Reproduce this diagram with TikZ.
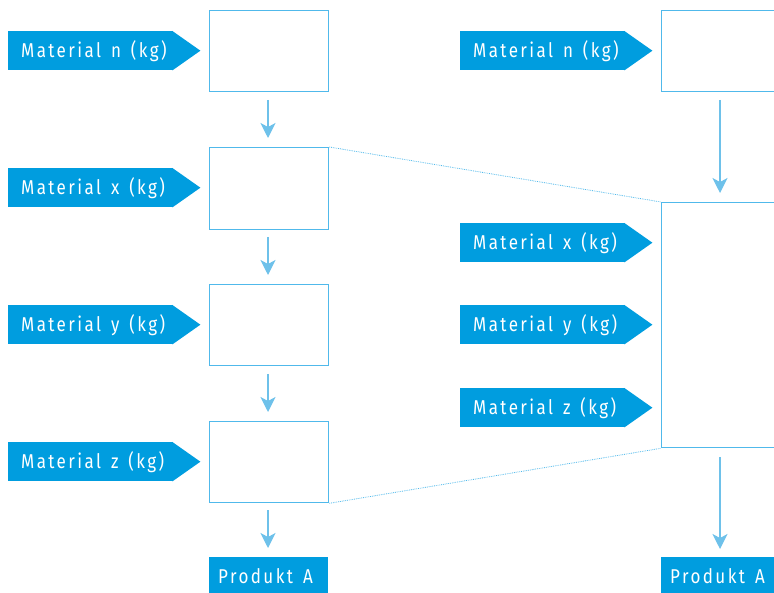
\documentclass[tikz,border=0pt]{standalone}
\usepackage{fontspec}
\setmainfont[LetterSpace=12,FakeStretch=0.85]{Fira Sans}
\usetikzlibrary{arrows.meta,calc}
\definecolor{fillblue}{RGB}{0,157,223}
\definecolor{boxblue}{RGB}{80,185,235}
\definecolor{arrblue}{RGB}{110,193,234}
\newcommand\mylabfont{\fontsize{20}{20}\selectfont}
\newcommand\wsp{\kern10pt\relax}
\tikzset{
  lab/.style={fill=fillblue, text=white, anchor=north west, minimum width=165pt, minimum height=39pt,
    inner xsep=13pt, inner ysep=0pt, text width=139pt, align=left, font=\mylabfont},
  box/.style={draw=boxblue, line width=1.3pt, anchor=north west, minimum width=119pt, inner sep=0pt},
  flow/.style={draw=arrblue, line width=1.3pt, -{Stealth[length=15pt,width=15pt,inset=4pt]}},
  prod/.style={fill=fillblue, text=white, anchor=north west, minimum height=37pt, inner xsep=9pt, inner ysep=0pt,
    text width=101pt, align=left, font=\mylabfont},
  dot/.style={draw=boxblue, line width=0.8pt, densely dotted}
}
\begin{document}
\begin{tikzpicture}[x=1pt,y=-1pt]
\useasboundingbox (0,0) rectangle (774,593);
% left column boxes
\node[box, minimum height=81pt] (b1) at (209,10) {};
\node[box, minimum height=82pt] (b2) at (209,147) {};
\node[box, minimum height=81pt] (b3) at (209,284) {};
\node[box, minimum height=81pt] (b4) at (209,421) {};
\node[prod] (pA) at (209,557) {Produkt\wsp A};
% left labels
\node[lab] (ln) at (8,31) {Material\wsp n\wsp (kg)};
\node[lab] (lx) at (8,168) {Material\wsp x\wsp (kg)};
\node[lab] (ly) at (8,305) {Material\wsp y\wsp (kg)};
\node[lab] (lz) at (8,442) {Material\wsp z\wsp (kg)};
\foreach \n in {ln,lx,ly,lz}{\fill[fillblue] ($(\n.north east)+(-1,0)$) -- ($(\n.east)+(27,0)$) -- ($(\n.south east)+(-1,0)$) -- cycle;}
% left arrows
\coordinate (a1s) at (268,100); \coordinate (a1e) at (268,138);
\coordinate (a2s) at (268,237); \coordinate (a2e) at (268,275);
\coordinate (a3s) at (268,374); \coordinate (a3e) at (268,412);
\coordinate (a4s) at (268,510); \coordinate (a4e) at (268,548);
\draw[flow] (a1s) -- (a1e);
\draw[flow] (a2s) -- (a2e);
\draw[flow] (a3s) -- (a3e);
\draw[flow] (a4s) -- (a4e);
% right column
\node[box, minimum height=81pt, minimum width=130pt] (r1) at (661,10) {};
\node[box, minimum height=245pt, minimum width=130pt] (r2) at (661,202) {};
\node[prod, text width=112pt] (pB) at (661,557) {Produkt\wsp A};
\node[lab] (rn) at (460,31) {Material\wsp n\wsp (kg)};
\node[lab] (rx) at (460,223) {Material\wsp x\wsp (kg)};
\node[lab] (ry) at (460,305) {Material\wsp y\wsp (kg)};
\node[lab] (rz) at (460,388) {Material\wsp z\wsp (kg)};
\foreach \n in {rn,rx,ry,rz}{\fill[fillblue] ($(\n.north east)+(-1,0)$) -- ($(\n.east)+(27,0)$) -- ($(\n.south east)+(-1,0)$) -- cycle;}
\coordinate (c1s) at (720,100); \coordinate (c1e) at (720,193);
\coordinate (c2s) at (720,457); \coordinate (c2e) at (720,549);
\draw[flow] (c1s) -- (c1e);
\draw[flow] (c2s) -- (c2e);
% dotted connectors
\draw[dot] (b2.north east) -- (r2.north west);
\draw[dot] (b4.south east) -- (r2.south west);
\end{tikzpicture}
\end{document}
